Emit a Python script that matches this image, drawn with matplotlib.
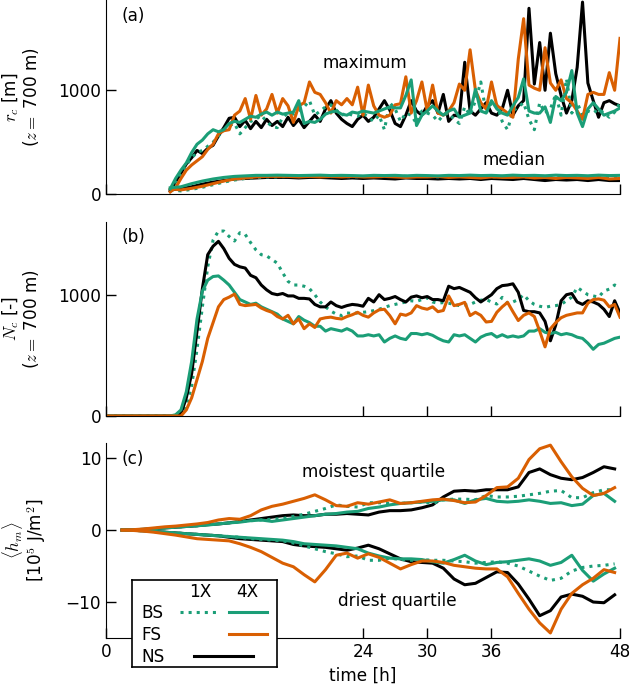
import numpy as np
import matplotlib
matplotlib.use('Agg')
import matplotlib.pyplot as plt

plt.rcParams['font.family'] = 'DejaVu Sans'
plt.rcParams['mathtext.fontset'] = 'cm'
plt.rcParams['font.size'] = 12.2

GREEN = '#1b9e77'
ORANGE = '#d95f02'

# ---- panel (a): cloud size, maximum (0.5 h output from 6 h to 48 h)
rmax_ns = [30, 120, 200, 290, 350, 420, 390, 440, 470, 560, 640, 730, 740, 650, 710, 630, 700, 640,
           720, 660, 700, 650, 740, 660, 720, 640, 700, 760, 700, 820, 900, 780, 720, 680, 650, 720,
           760, 700, 740, 820, 900, 810, 680, 650, 760, 900, 800, 760, 850, 900, 780, 960, 700, 760,
           750, 1270, 800, 760, 820, 880, 780, 760, 820, 1000, 760, 850, 900, 1790, 1060, 1460, 1000,
           1550, 1160, 950, 780, 900, 1220, 1850, 1070, 900, 740, 880, 900, 870, 850]
rmax_fs = [20, 60, 150, 230, 280, 320, 360, 430, 480, 580, 610, 620, 760, 800, 920, 720, 950, 760,
           820, 960, 780, 920, 850, 690, 850, 880, 1080, 980, 960, 880, 780, 900, 860, 920, 860, 1030,
           760, 1050, 850, 760, 740, 760, 860, 870, 1130, 780, 900, 1080, 800, 1050, 780, 760, 800, 880,
           1060, 1000, 1390, 1000, 880, 820, 1080, 850, 820, 780, 740, 1300, 1690, 1050, 1020, 1000,
           1410, 1070, 1000, 1100, 920, 880, 800, 720, 960, 980, 960, 960, 1170, 1000, 1500]
rmax_bs4 = [50, 150, 230, 300, 400, 480, 520, 580, 620, 600, 620, 680, 700, 690, 720, 750, 740, 770,
            790, 760, 790, 770, 780, 790, 900, 680, 700, 690, 720, 770, 790, 800, 770, 760, 790, 780,
            800, 790, 780, 800, 820, 840, 830, 830, 950, 1100, 660, 760, 800, 850, 800, 760, 800, 820,
            740, 760, 780, 1010, 800, 780, 900, 820, 780, 760, 850, 930, 1110, 800, 780, 780, 840, 690,
            940, 900, 980, 1190, 780, 650, 820, 880, 820, 760, 780, 800, 830]
rmax_bs1 = [40, 120, 200, 280, 350, 400, 420, 460, 500, 560, 620, 660, 680, 580, 640, 700, 720, 760,
            700, 650, 640, 740, 780, 770, 800, 840, 900, 760, 800, 840, 860, 810, 760, 780, 760, 750,
            780, 740, 700, 760, 620, 880, 820, 700, 780, 760, 680, 800, 780, 760, 700, 760, 780, 720,
            680, 840, 760, 900, 1080, 780, 880, 860, 700, 620, 800, 840, 880, 720, 620, 880, 780, 820,
            960, 760, 1110, 780, 880, 760, 800, 780, 820, 780, 740, 790, 880]

# ---- panel (a): cloud size, median (1 h from 6 h to 48 h)
rmed_ns = [40, 50, 70, 95, 115, 130, 145, 150, 155, 160, 160, 160, 155, 160, 160, 155, 150, 155, 150,
           155, 150, 145, 155, 150, 150, 145, 150, 145, 150, 140, 150, 145, 140, 150, 140, 130, 140,
           135, 140, 130, 140, 130, 130]
rmed_fs = [50, 40, 55, 75, 100, 125, 145, 155, 165, 170, 170, 170, 165, 170, 165, 170, 165, 170, 165,
           165, 170, 165, 160, 165, 165, 170, 160, 165, 160, 155, 165, 160, 160, 165, 155, 160, 150,
           160, 155, 150, 160, 145, 150]
rmed_bs4 = [60, 70, 100, 125, 145, 160, 170, 175, 180, 180, 182, 180, 178, 180, 182, 178, 180, 178,
            175, 180, 178, 180, 175, 180, 178, 175, 180, 178, 182, 178, 180, 176, 182, 178, 180, 176,
            182, 178, 180, 176, 182, 178, 180]
rmed_bs1 = [40, 30, 45, 65, 90, 115, 135, 150, 160, 165, 165, 170, 168, 170, 170, 168, 170, 165, 168,
            170, 168, 170, 172, 168, 170, 165, 170, 172, 168, 170, 165, 170, 168, 165, 168, 170, 165,
            168, 170, 165, 168, 165, 168]

# ---- panel (b): number of clouds (0.5 h from 6 h to 48 h)
nc_ns = [0, 0, 20, 150, 350, 700, 1050, 1330, 1400, 1440, 1380, 1300, 1250, 1230, 1220, 1160, 1140,
         1080, 1040, 1010, 1000, 1010, 990, 990, 970, 970, 965, 920, 900, 900, 940, 910, 895, 910, 920,
         915, 905, 970, 940, 1000, 960, 970, 985, 960, 940, 980, 990, 975, 985, 960, 960, 950, 1070,
         1050, 1060, 1040, 1020, 975, 940, 970, 1000, 1050, 1075, 1080, 1090, 1020, 870, 860, 860, 850,
         780, 620, 750, 950, 1000, 1010, 940, 920, 950, 940, 920, 880, 820, 950, 850]
nc_fs = [0, 0, 0, 50, 150, 300, 450, 640, 770, 900, 960, 980, 1005, 920, 910, 915, 920, 890, 870, 855,
         820, 800, 830, 760, 800, 720, 760, 730, 800, 810, 815, 805, 800, 820, 835, 855, 830, 815, 850,
         875, 880, 828, 760, 840, 830, 850, 910, 890, 880, 900, 860, 870, 990, 910, 920, 937, 828, 855,
         830, 775, 780, 855, 900, 937, 860, 787, 830, 850, 820, 700, 570, 719, 770, 810, 830, 840, 850,
         850, 930, 960, 965, 955, 900, 920, 815]
nc_bs4 = [0, 10, 50, 200, 450, 800, 1030, 1120, 1150, 1155, 1120, 1080, 1020, 960, 940, 920, 930, 900,
          880, 860, 840, 800, 780, 760, 820, 790, 770, 740, 740, 700, 720, 710, 700, 720, 700, 660, 660,
          670, 660, 670, 610, 640, 660, 640, 630, 680, 680, 670, 680, 665, 640, 620, 610, 670, 660, 670,
          640, 610, 650, 670, 680, 650, 670, 650, 660, 650, 660, 700, 700, 720, 690, 680, 690, 670, 680,
          670, 650, 640, 600, 550, 590, 600, 620, 640, 650]
nc_bs1 = [0, 0, 10, 80, 250, 550, 900, 1230, 1450, 1525, 1525, 1480, 1443, 1511, 1497, 1430, 1370,
          1330, 1320, 1290, 1260, 1180, 1110, 1080, 1080, 1070, 1050, 1000, 940, 900, 865, 840, 828, 850,
          845, 850, 855, 860, 869, 880, 895, 910, 920, 930, 940, 950, 945, 960, 975, 940, 930, 935, 930,
          920, 910, 915, 920, 940, 955, 960, 940, 923, 978, 930, 940, 960, 1000, 950, 920, 905, 896, 905,
          910, 920, 950, 980, 1060, 1030, 1000, 990, 980, 1030, 1046, 1080, 1060]

# ---- panel (c): moist static energy anomaly (1 h from 1.5 h to 47.5 h)
moist_ns = [0, 0.03, 0.1, 0.2, 0.3, 0.4, 0.5, 0.6, 0.75, 0.85, 1.0, 1.2, 1.4, 1.6, 1.8, 2.0, 2.1, 2.0,
            2.0, 2.2, 2.2, 2.3, 2.2, 2.1, 2.5, 2.7, 2.7, 2.8, 3.1, 3.5, 4.6, 5.4, 5.5, 5.4, 5.6, 5.6, 5.6,
            6.0, 8.0, 8.5, 7.7, 7.2, 7.0, 7.3, 8.0, 8.8, 8.5]
moist_fs = [0, 0.05, 0.15, 0.3, 0.45, 0.55, 0.7, 0.85, 1.05, 1.4, 1.6, 1.5, 2.0, 2.8, 3.3, 3.6, 4.0,
            4.4, 4.9, 4.2, 3.4, 3.3, 3.8, 3.6, 3.9, 4.2, 3.7, 3.8, 4.0, 4.2, 4.3, 4.1, 3.8, 3.9, 4.8, 5.9,
            6.0, 7.2, 9.8, 11.3, 11.8, 9.5, 7.4, 5.8, 4.8, 5.1, 5.9]
moist_bs4 = [0, 0.03, 0.1, 0.2, 0.3, 0.4, 0.5, 0.6, 0.7, 0.85, 1.0, 1.1, 1.3, 1.4, 1.2, 1.4, 1.6, 1.8,
             2.0, 2.2, 2.3, 2.5, 2.6, 3.0, 3.2, 3.5, 3.7, 3.8, 3.9, 4.0, 4.2, 4.2, 3.7, 4.2, 4.4, 4.0,
             3.9, 4.0, 4.2, 4.0, 3.7, 3.8, 3.4, 3.6, 4.8, 5.1, 4.0]
moist_bs1 = [0, 0.03, 0.1, 0.2, 0.3, 0.4, 0.5, 0.6, 0.75, 0.9, 1.0, 1.2, 1.3, 1.4, 1.5, 1.6, 1.9, 2.2,
             2.6, 3.0, 3.5, 3.3, 3.2, 3.8, 3.8, 3.7, 3.7, 3.8, 3.9, 3.7, 4.2, 4.3, 4.3, 4.2, 4.8, 4.6,
             4.6, 4.7, 4.9, 5.1, 5.4, 5.5, 4.5, 4.5, 5.2, 5.6, 5.6]
dry_ns = [0, -0.03, -0.1, -0.2, -0.3, -0.4, -0.5, -0.6, -0.7, -0.8, -1.0, -1.2, -1.3, -1.4, -1.5, -1.6,
          -2.0, -2.2, -2.3, -2.4, -2.6, -2.8, -2.5, -2.1, -2.6, -3.3, -4.0, -4.4, -4.5, -4.6, -5.3, -6.8,
          -7.6, -7.4, -6.6, -5.8, -5.9, -7.5, -9.6, -11.9, -11.2, -9.3, -8.9, -9.2, -10.0, -10.1, -9.0]
dry_fs = [0, -0.05, -0.15, -0.3, -0.5, -0.7, -0.95, -1.2, -1.3, -1.4, -1.5, -1.9, -2.4, -3.0, -3.8,
          -4.6, -5.1, -6.2, -7.2, -5.5, -3.5, -3.2, -3.9, -3.3, -3.8, -4.6, -5.4, -4.8, -4.3, -4.3, -4.5,
          -4.9, -5.1, -5.3, -5.4, -5.4, -6.5, -8.8, -11.0, -12.9, -14.3, -11.0, -8.8, -7.6, -6.7, -5.5,
          -5.9]
dry_bs4 = [0, -0.03, -0.1, -0.2, -0.3, -0.4, -0.5, -0.6, -0.7, -0.8, -0.9, -1.0, -1.1, -1.2, -1.3, -1.4,
           -1.6, -1.9, -2.0, -2.1, -2.2, -2.4, -2.6, -3.2, -3.6, -3.9, -4.0, -4.0, -4.1, -4.4, -4.6, -4.1,
           -3.5, -4.3, -4.8, -4.5, -4.4, -4.2, -4.0, -4.3, -4.9, -4.5, -3.5, -5.6, -7.1, -6.1, -5.3]
dry_bs1 = [0, -0.03, -0.1, -0.2, -0.3, -0.4, -0.5, -0.6, -0.7, -0.8, -0.9, -1.0, -1.2, -1.3, -1.4, -1.5,
           -1.8, -2.2, -2.6, -3.0, -3.3, -3.7, -3.6, -4.2, -4.2, -3.9, -4.1, -4.2, -4.1, -4.2, -4.2, -4.3,
           -4.4, -4.6, -4.5, -4.4, -4.6, -5.0, -5.7, -6.4, -7.0, -6.7, -5.7, -5.2, -5.0, -4.9, -4.7]

xticks = [0, 24, 30, 36, 48]

# time axes of the output
t_max = np.linspace(6, 48, len(rmax_ns))
t_med = np.linspace(6, 48, len(rmed_ns))
t_nc = np.linspace(6, 48, len(nc_ns))
t_hm = np.linspace(1.5, 47.5, len(moist_ns))

lw = 2.2
# colour, linestyle per run
runs = {
    'bs1': (GREEN, ':'),
    'bs4': (GREEN, '-'),
    'fs': (ORANGE, '-'),
    'ns': ('k', '-'),
}

fig = plt.figure(figsize=(6.3, 6.91), dpi=100)
left, width = 106 / 630, 514 / 630
ax_a = fig.add_axes([left, 0.7192, width, 0.2808])
ax_b = fig.add_axes([left, 0.3980, width, 0.2808])
ax_c = fig.add_axes([left, 0.0767, width, 0.2822])

# panel a
for key, (vals, meds) in {'ns': (rmax_ns, rmed_ns), 'bs1': (rmax_bs1, rmed_bs1),
                          'fs': (rmax_fs, rmed_fs), 'bs4': (rmax_bs4, rmed_bs4)}.items():
    c, ls = runs[key]
    ax_a.plot(t_max, vals, color=c, ls=ls, lw=lw)
    ax_a.plot(t_med, meds, color=c, ls=ls, lw=lw)
ax_a.set_ylim(0, 1870)
ax_a.set_yticks([0, 1000])
ax_a.set_ylabel('$r_c$ [m]\n($z =$ 700 m)', linespacing=1.0)
ax_a.text(24.2, 1260, 'maximum', ha='center', va='center')
ax_a.text(38.1, 327, 'median', ha='center', va='center')

# panel b
for key, vals in {'bs1': nc_bs1, 'ns': nc_ns, 'bs4': nc_bs4, 'fs': nc_fs}.items():
    c, ls = runs[key]
    ax_b.plot(np.r_[0, t_nc], np.r_[0, vals], color=c, ls=ls, lw=lw)
ax_b.set_ylim(0, 1600)
ax_b.set_yticks([0, 1000])
ax_b.set_ylabel('$N_c$ [-]\n($z =$ 700 m)', linespacing=1.0)

# panel c
for key, (m, d) in {'ns': (moist_ns, dry_ns), 'bs1': (moist_bs1, dry_bs1),
                    'bs4': (moist_bs4, dry_bs4), 'fs': (moist_fs, dry_fs)}.items():
    c, ls = runs[key]
    ax_c.plot(t_hm, m, color=c, ls=ls, lw=lw)
    ax_c.plot(t_hm, d, color=c, ls=ls, lw=lw)
ax_c.set_ylim(-15, 12.1)
ax_c.set_yticks([-10, 0, 10])
ax_c.set_ylabel(r'$\langle h_m \rangle$' + '\n' + r'[10$^5$ J/m$^2$]', linespacing=1.0)
ax_c.set_xlabel('time [h]')
ax_c.text(25.0, 8.1, 'moistest quartile', ha='center', va='center')
ax_c.text(27.2, -9.8, 'driest quartile', ha='center', va='center')

for ax, lab, ylx in zip([ax_a, ax_b, ax_c], ['(a)', '(b)', '(c)'], [-0.126, -0.126, -0.112]):
    ax.set_xlim(0, 48)
    ax.set_xticks(xticks)
    if ax is not ax_c:
        ax.set_xticklabels([])
    ax.spines['top'].set_visible(False)
    ax.spines['right'].set_visible(False)
    ax.tick_params(direction='in', length=7, width=1, labelsize=12.2)
    ax.yaxis.set_label_coords(ylx, 0.5)
    ax.text(0.031, 0.92, lab, transform=ax.transAxes, ha='left', va='center')

# legend box drawn by hand (1X / 4X columns)
lg = fig.add_axes([132 / 630, 1 - 667 / 691, 145 / 630, 87 / 691], zorder=10)
lg.set_xlim(0, 145)
lg.set_ylim(87, 0)
lg.set_xticks([])
lg.set_yticks([])
for s in lg.spines.values():
    s.set_linewidth(1.2)
lg.text(68, 12, '1X', ha='center', va='center')
lg.text(115, 12, '4X', ha='center', va='center')
for y, name in zip([33, 55, 77], ['BS', 'FS', 'NS']):
    lg.text(9, y, name, ha='left', va='center')
lg.plot([48, 85], [32, 32], color=GREEN, ls=':', lw=lw)
lg.plot([97, 135], [32, 32], color=GREEN, lw=lw)
lg.plot([97, 135], [54, 54], color=ORANGE, lw=lw)
lg.plot([62, 121], [76, 76], color='k', lw=lw)

fig.savefig('out.png', dpi=100)
